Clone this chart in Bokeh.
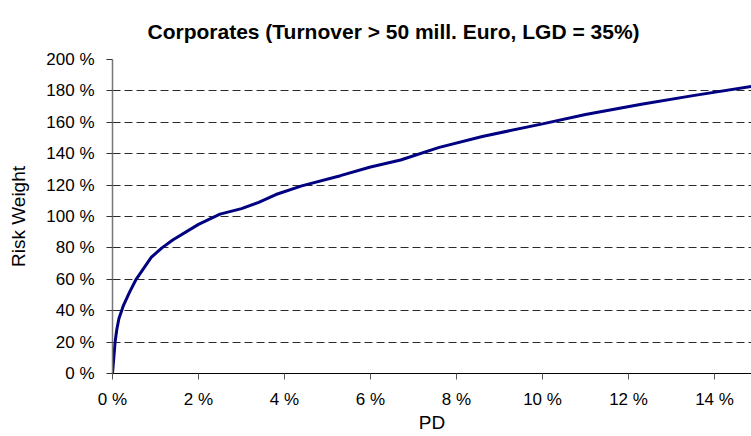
from bokeh.plotting import figure
from bokeh.models import Range1d, PrintfTickFormatter, FixedTicker, Title
from bokeh.embed import file_html
from bokeh.resources import INLINE

pd_pct = [0, 0.03, 0.06, 0.1, 0.15, 0.25, 0.4, 0.55, 0.9, 1.15, 1.4, 2.0, 2.5,
          3.0, 3.4, 3.8, 4.4, 5.3, 6.0, 6.7, 7.6, 8.6, 10.0, 11.0, 12.3, 13.5, 14.86]
risk_weight = [0, 10, 20, 28, 35, 43, 52, 60, 74, 80, 85, 95, 101.5,
               105, 109, 114, 119.5, 126, 131.5, 136, 144, 151, 159, 165, 171.5, 177, 182.8]
x_ticks = [0, 2, 4, 6, 8, 10, 12, 14]
y_ticks = [0, 20, 40, 60, 80, 100, 120, 140, 160, 180, 200]

FONT = "Liberation Sans"

p = figure(width=751, height=436, output_backend="svg", toolbar_location=None,
           x_range=Range1d(0, 14.86), y_range=Range1d(0, 200),
           min_border_left=112, min_border_right=0, min_border_top=59, min_border_bottom=63)
p.outline_line_color = None
p.background_fill_color = "white"

t = Title(text="Corporates (Turnover > 50 mill. Euro, LGD = 35%)", align="left",
          offset=35, standoff=34, text_font=FONT, text_font_size="21px",
          text_font_style="bold", text_color="black")
p.add_layout(t, "above")

p.line(pd_pct, risk_weight, line_color="#000080", line_width=3)

p.xgrid.visible = False
p.ygrid.grid_line_color = "#2a2a2a"
p.ygrid.grid_line_dash = "8 4"
p.ygrid.grid_line_width = 1
p.ygrid.ticker = FixedTicker(ticks=y_ticks)

p.xaxis.ticker = FixedTicker(ticks=x_ticks)
p.yaxis.ticker = FixedTicker(ticks=y_ticks)
p.xaxis.formatter = PrintfTickFormatter(format="%d %%")
p.yaxis.formatter = PrintfTickFormatter(format="%d %%")
for ax in (p.xaxis, p.yaxis):
    ax.major_label_text_font = FONT
    ax.major_label_text_font_size = "17px"
    ax.major_label_text_color = "black"
    ax.axis_label_text_font = FONT
    ax.axis_label_text_font_size = "19px"
    ax.axis_label_text_font_style = "normal"
    ax.axis_label_text_color = "black"
    ax.minor_tick_line_color = None
    ax.major_tick_in = 0
    ax.major_tick_out = 6
p.xaxis.axis_label = "PD"
p.yaxis.axis_label = "Risk Weight"
p.xaxis.axis_line_color = "black"
p.xaxis.major_tick_line_color = "#555555"
p.yaxis.axis_line_color = "#777777"
p.yaxis.axis_line_width = 1.5
p.yaxis.major_tick_line_color = "#333333"
p.xaxis.major_label_standoff = 10
p.yaxis.major_label_standoff = 12
p.xaxis.axis_label_standoff = 0
p.yaxis.axis_label_standoff = 14

open("out.html", "w").write(file_html(p, INLINE))
